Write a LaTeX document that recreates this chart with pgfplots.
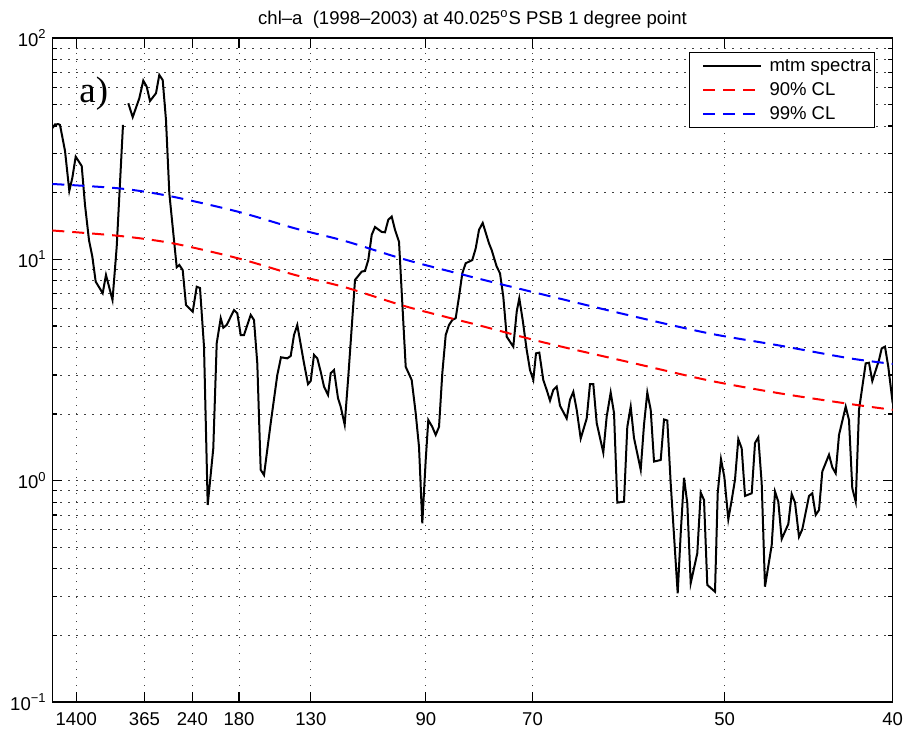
\documentclass[border=0pt]{standalone}
\usepackage{fontspec}
\setmainfont{Liberation Sans}
\newfontfamily\timesfont{Liberation Serif}
\usepackage{pgfplots}
\usepackage{pgfplotstable}
\pgfplotsset{compat=1.18}

% frequency in 1e-3 cycles/day, spectral power
\pgfplotstableread{
f v
0.006 39.2
0.080 40.7
0.178 40.8
0.229 40.5
0.378 30.9
0.506 20.4
0.595 23.3
0.696 29.1
0.875 26.4
0.973 17.6
1.092 12.2
1.190 10.3
1.291 7.93
1.499 7.03
1.597 8.50
1.791 6.55
1.916 11.4
2.103 40.5
2.180 nan
2.261 50.7
2.392 43.9
2.588 53.4
2.707 64.2
2.808 60.3
2.906 51.9
3.085 56.3
3.183 68.1
3.284 64.6
3.382 42.6
3.481 19.9
3.600 13.1
3.701 9.21
3.778 9.43
3.879 8.95
3.977 6.22
4.177 5.80
4.296 7.52
4.394 7.42
4.513 4.03
4.623 0.777
4.789 1.40
4.891 4.18
5.010 5.42
5.087 4.91
5.188 5.05
5.405 5.90
5.503 5.71
5.605 4.55
5.703 4.55
5.902 5.61
6.000 5.32
6.098 3.39
6.199 1.12
6.298 1.06
6.497 1.82
6.693 3.00
6.803 3.61
6.991 3.57
7.092 3.66
7.190 4.55
7.288 5.05
7.488 3.39
7.607 2.73
7.687 2.82
7.785 3.70
7.883 3.57
7.984 3.11
8.083 2.66
8.202 2.44
8.282 3.06
8.380 3.16
8.499 2.36
8.579 2.16
8.698 1.79
8.805 2.95
9.005 8.07
9.204 8.80
9.302 8.86
9.400 9.93
9.502 12.9
9.600 14.0
9.799 13.3
9.897 13.25
9.995 15.1
10.096 15.6
10.195 13.6
10.314 12.0
10.412 6.33
10.513 3.27
10.691 2.85
10.810 2.02
10.909 1.42
11.007 0.642
11.108 1.24
11.185 1.88
11.304 1.75
11.405 1.61
11.504 1.75
11.602 3.06
11.703 4.55
11.801 5.05
11.899 5.32
12.000 5.42
12.099 6.78
12.197 8.65
12.298 9.60
12.494 9.93
12.595 11.2
12.694 13.6
12.804 14.6
12.991 11.8
13.071 11.0
13.220 9.27
13.318 8.65
13.416 6.78
13.518 4.47
13.714 4.03
13.815 5.80
13.892 6.67
13.993 5.32
14.112 3.90
14.211 3.16
14.309 2.85
14.389 3.76
14.487 3.79
14.606 2.85
14.707 2.57
14.806 2.30
14.904 2.57
15.005 2.66
15.103 2.18
15.302 1.91
15.400 2.32
15.499 2.52
15.600 2.09
15.719 1.55
15.897 1.91
15.995 2.73
16.094 2.73
16.195 1.82
16.391 1.34
16.492 1.95
16.611 2.50
16.710 2.02
16.808 0.796
17.007 0.804
17.105 1.75
17.206 2.16
17.304 1.56
17.504 1.12
17.602 1.79
17.700 2.50
17.801 2.09
17.900 1.22
18.099 1.24
18.197 1.89
18.295 1.87
18.396 0.973
18.604 0.310
18.694 0.578
18.792 1.03
18.890 0.790
18.991 0.344
19.187 0.470
19.289 0.883
19.387 0.818
19.485 0.338
19.714 0.315
19.794 0.877
19.892 1.25
19.991 1.04
20.110 0.669
20.211 0.818
20.309 1.01
20.407 1.54
20.508 1.40
20.607 0.853
20.806 0.877
20.904 1.48
21.002 1.57
21.103 0.973
21.201 0.332
21.401 0.512
21.499 0.892
21.597 0.804
21.698 0.545
21.895 0.637
21.995 0.871
22.094 0.796
22.213 0.558
22.311 0.603
22.510 0.853
22.608 0.877
22.709 0.700
22.808 0.737
22.906 1.10
23.105 1.31
23.203 1.15
23.304 1.08
23.403 1.61
23.602 2.16
23.700 1.88
23.798 0.924
23.900 0.804
23.998 2.09
24.197 3.39
24.295 3.41
24.393 2.82
24.593 3.51
24.673 3.96
24.771 4.03
24.869 3.27
25.000 2.24
}\mtm

\pgfplotstableread{
f v
0.000 13.5
2.014 12.75
3.600 11.8
5.533 10.1
7.220 8.50
8.707 7.48
10.543 6.11
12.723 5.02
14.657 4.20
17.236 3.41
19.565 2.83
21.647 2.48
23.729 2.22
25.000 2.09
}\clninety

\pgfplotstableread{
f v
0.000 21.9
2.014 20.9
3.501 19.3
5.533 16.4
7.220 13.8
8.707 12.1
10.543 9.93
12.723 8.15
14.657 6.90
17.236 5.55
19.565 4.62
21.550 4.10
23.729 3.57
25.000 3.37
}\clninetynine

\begin{document}
\begin{tikzpicture}
\begin{axis}[
  name=ax,
  scale only axis,
  width=420.2bp, height=332bp,
  xmin=0, xmax=25,
  ymode=log, ymin=0.1, ymax=100,
  unbounded coords=jump,
  axis line style={black, line width=0.6bp},
  tick style={black, line width=0.6bp},
  tick align=inside,
  tick pos=both,
  xticklabel pos=lower, yticklabel pos=left,
  major tick length=5bp, minor tick length=2.5bp,
  xtick={0.714,2.740,4.167,5.556,7.692,11.111,14.286,20,25},
  xticklabels={1400,365,240,180,130,90,70,50,40},
  ytick={0.1,1,10,100},
  yticklabels={10\textsuperscript{−1},10\textsuperscript{0},10\textsuperscript{1},10\textsuperscript{2}},
  minor ytick={0.2,0.3,0.4,0.5,0.6,0.7,0.8,0.9,2,3,4,5,6,7,8,9,20,30,40,50,60,70,80,90},
  xmajorgrids=true, ymajorgrids=true, yminorgrids=true,
  major grid style={black!75, line width=0.45bp, dash pattern=on 0.6bp off 3.4bp},
  minor grid style={black!75, line width=0.45bp, dash pattern=on 0.6bp off 3.4bp},
  tick label style={font=\fontsize{9.3}{11}\selectfont, inner sep=0pt},
  xticklabel shift=5bp,
  yticklabel shift=2.65bp,
  every axis title/.style={at={(0.5,1)}, anchor=base, yshift=6.5bp, inner sep=0pt, font=\fontsize{9.3}{11}\selectfont},
  title={chl–a\ \ (1998–2003) at 40.025\textsuperscript{o}S PSB 1 degree point},
  legend cell align=left,
  legend image code/.code={\path (0bp,0bp); \draw[#1] (4.7bp,0bp) -- (33.7bp,0bp);},
  legend style={at={(0.979,0.9785)}, anchor=north east, draw=black, line width=0.6bp, fill=white,
    inner xsep=1.5bp, inner ysep=2.25bp, row sep=3bp, column sep=3.7bp,
    nodes={inner sep=0pt, text height=7bp, text depth=2bp},
    font=\fontsize{9.3}{11}\selectfont},
]
\addplot[black, line width=1bp] table[x=f, y=v]{\mtm};
\addlegendentry{mtm spectra}
\addplot[red, line width=1bp, dash pattern=on 6bp off 4bp, smooth] table[x=f, y=v]{\clninety};
\addlegendentry{90\% CL}
\addplot[blue, line width=1bp, dash pattern=on 6bp off 4bp, smooth] table[x=f, y=v]{\clninetynine};
\addlegendentry{99\% CL}
\node[anchor=base west, inner sep=0pt, font=\timesfont\fontsize{18.5}{20}\selectfont] at (axis cs:0.797,50.9) {a)};
\end{axis}
\pgfresetboundingbox
\path[use as bounding box] ([xshift=-26.15bp, yshift=-15bp]ax.south west) rectangle ([xshift=7.15bp, yshift=19bp]ax.north east);
\end{tikzpicture}
\end{document}
